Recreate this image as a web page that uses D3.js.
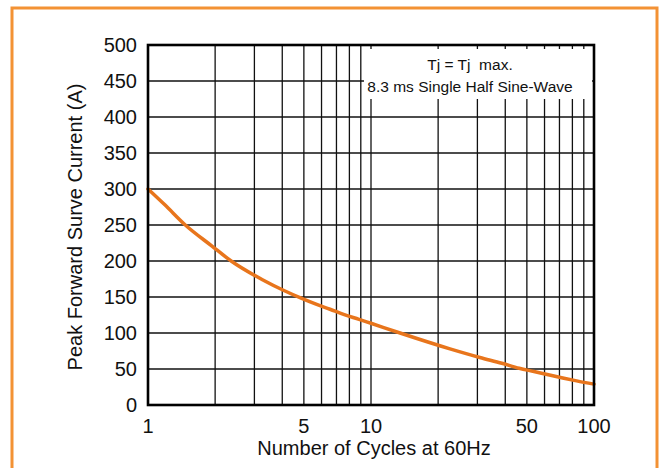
<!DOCTYPE html>
<html>
<head>
<meta charset="utf-8">
<script src="https://cdn.jsdelivr.net/npm/d3@7"></script>
<style>
  body { margin: 0; background: #fff; }
  svg text { font-family: "Liberation Sans", Arial, sans-serif; fill: #111; }
</style>
</head>
<body>
<div id="chart"></div>
<script>
// values
const cycles  = [1, 1.19, 1.47, 1.93, 2.36, 3.26, 4.07, 4.89, 5.67, 6.55, 7.59, 8.84, 10, 13.5, 22.6, 30.8, 38.6, 46.2, 53.8, 62.4, 72.4, 83.6, 100]
const current = [300, 278, 250, 221, 200, 174, 159, 148, 140, 133, 125.5, 119, 113.5, 100, 78, 66, 58, 51, 46.5, 42, 37.5, 33.5, 29]

const xTickLabels = [1, 5, 10, 50, 100]
const xGridLines = [2, 3, 4, 5, 6, 7, 8, 9, 10, 20, 30, 40, 50, 60, 70, 80, 90]
const yTicks = [0, 50, 100, 150, 200, 250, 300, 350, 400, 450, 500]
const noteLines = ["Tj = Tj  max.", "8.3 ms Single Half Sine-Wave"]

const W = 670, H = 468
const margin = {top: 45, right: 76, bottom: 63, left: 148}

const svg = d3.select("#chart").append("svg")
  .attr("width", W)
  .attr("height", H)

// orange frame round the figure
svg.append("rect")
  .attr("x", 12).attr("y", 8)
  .attr("width", 645).attr("height", 480)
  .attr("fill", "none")
  .attr("stroke", "#f39234")
  .attr("stroke-width", 3)

const x = d3.scaleLog()
  .domain([1, 100])
  .range([margin.left, W - margin.right])

const y = d3.scaleLinear()
  .domain([0, 500])
  .range([H - margin.bottom, margin.top])

const grid = svg.append("g")
  .attr("stroke", "#111")
  .attr("stroke-width", 1.3)

grid.selectAll("line.v")
  .data(xGridLines)
  .join("line")
    .attr("class", "v")
    .attr("x1", d => x(d)).attr("x2", d => x(d))
    .attr("y1", y(0)).attr("y2", y(500))

grid.selectAll("line.h")
  .data(yTicks.slice(1, -1))
  .join("line")
    .attr("class", "h")
    .attr("x1", x(1)).attr("x2", x(100))
    .attr("y1", d => y(d)).attr("y2", d => y(d))

// note box hides the grid behind the text
const note = svg.append("g")
note.append("rect")
  .attr("x", x(9.3)).attr("y", y(500) + 4)
  .attr("width", x(98) - x(9.3))
  .attr("height", y(425) - y(500) - 4)
  .attr("fill", "#fff")

note.selectAll("text")
  .data(noteLines)
  .join("text")
    .attr("x", 470)
    .attr("y", (d, i) => 70 + i * 21.5)
    .attr("text-anchor", "middle")
    .attr("font-size", 15.5)
    .style("white-space", "pre")
    .text(d => d)

const line = d3.line()
  .x((d, i) => x(cycles[i]))
  .y(d => y(d))
  .curve(d3.curveMonotoneX)

svg.append("path")
  .datum(current)
  .attr("d", line)
  .attr("fill", "none")
  .attr("stroke", "#e8751c")
  .attr("stroke-width", 3.5)
  .attr("stroke-linecap", "round")

// plot border
svg.append("rect")
  .attr("x", x(1)).attr("y", y(500))
  .attr("width", x(100) - x(1))
  .attr("height", y(0) - y(500))
  .attr("fill", "none")
  .attr("stroke", "#000")
  .attr("stroke-width", 2.6)

// y tick labels
svg.append("g")
  .selectAll("text")
  .data(yTicks)
  .join("text")
    .attr("x", x(1) - 11)
    .attr("y", d => y(d))
    .attr("dy", "0.36em")
    .attr("text-anchor", "end")
    .attr("font-size", 20)
    .text(d => d)

// x tick labels
svg.append("g")
  .selectAll("text")
  .data(xTickLabels)
  .join("text")
    .attr("x", d => x(d))
    .attr("y", 433)
    .attr("text-anchor", "middle")
    .attr("font-size", 20)
    .text(d => d)

svg.append("text")
  .attr("x", 374)
  .attr("y", 455)
  .attr("text-anchor", "middle")
  .attr("font-size", 20)
  .text("Number of Cycles at 60Hz")

svg.append("text")
  .attr("transform", `translate(82,${(y(0) + y(500)) / 2 + 2}) rotate(-90)`)
  .attr("text-anchor", "middle")
  .attr("font-size", 20)
  .text("Peak Forward Surve Current (A)")
</script>
</body>
</html>
